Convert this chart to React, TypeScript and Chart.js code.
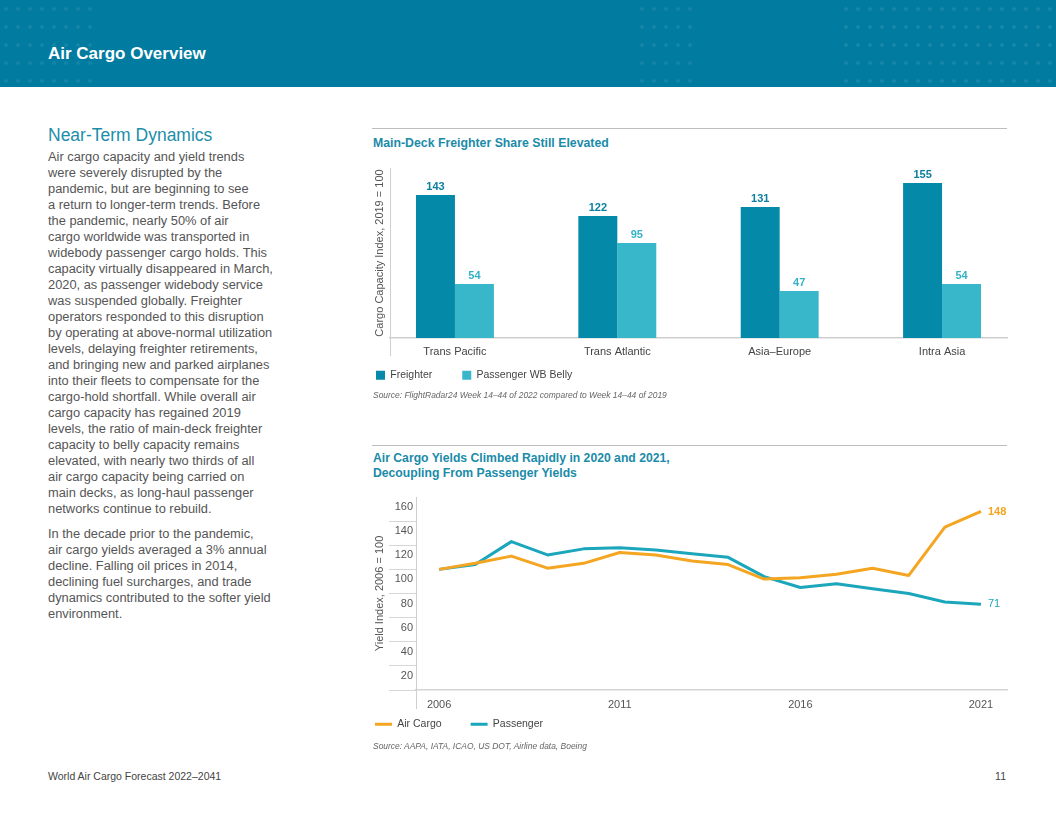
import React, { useEffect, useRef } from "react";
import { Chart, registerables } from "chart.js";

Chart.register(...registerables);

const FONT = '"Liberation Sans", Arial, Helvetica, sans-serif';

// ---- Bar chart data ----
const barCategories = ["Trans Pacific", "Trans Atlantic", "Asia–Europe", "Intra Asia"];
const freighterValues = [143, 122, 131, 155];
const bellyValues = [54, 95, 47, 54];
const barSeriesNames = ["Freighter", "Passenger WB Belly"];

// ---- Line chart data ----
const years = [2006, 2007, 2008, 2009, 2010, 2011, 2012, 2013, 2014, 2015, 2016, 2017, 2018, 2019, 2020, 2021];
const airCargoValues = [100, 105, 111, 101, 105, 114, 112, 107, 104, 92, 93, 96, 101, 95, 135, 148];
const passengerValues = [100, 104, 123, 112, 117, 118, 116, 113, 110, 94, 85, 88, 84, 80, 73, 71];
const yearTicks = [2006, 2011, 2016, 2021];
const lineSeriesNames = ["Air Cargo", "Passenger"];

const FREIGHTER = "#0489A9";
const BELLY = "#38B7CA";
const ORANGE = "#F4A521";
const TEAL = "#1BA6BC";

const bodyLines1 = [
  "Air cargo capacity and yield trends",
  "were severely disrupted by the",
  "pandemic, but are beginning to see",
  "a return to longer-term trends. Before",
  "the pandemic, nearly 50% of air",
  "cargo worldwide was transported in",
  "widebody passenger cargo holds. This",
  "capacity virtually disappeared in March,",
  "2020, as passenger widebody service",
  "was suspended globally. Freighter",
  "operators responded to this disruption",
  "by operating at above-normal utilization",
  "levels, delaying freighter retirements,",
  "and bringing new and parked airplanes",
  "into their fleets to compensate for the",
  "cargo-hold shortfall. While overall air",
  "cargo capacity has regained 2019",
  "levels, the ratio of main-deck freighter",
  "capacity to belly capacity remains",
  "elevated, with nearly two thirds of all",
  "air cargo capacity being carried on",
  "main decks, as long-haul passenger",
  "networks continue to rebuild.",
];
const bodyLines2 = [
  "In the decade prior to the pandemic,",
  "air cargo yields averaged a 3% annual",
  "decline. Falling oil prices in 2014,",
  "declining fuel surcharges, and trade",
  "dynamics contributed to the softer yield",
  "environment.",
];

const axisExtension = {
  id: "axisExtension",
  afterDraw(chart: any, _args: any, opts: any) {
    const { ctx, chartArea } = chart;
    ctx.save();
    ctx.strokeStyle = opts.color || "#ccc";
    ctx.lineWidth = 1;
    ctx.beginPath();
    ctx.moveTo(Math.round(chartArea.left) + 0.5, chartArea.bottom);
    ctx.lineTo(Math.round(chartArea.left) + 0.5, chartArea.bottom + (opts.length || 18));
    ctx.stroke();
    ctx.restore();
  },
};

// places the legend row at a fixed gap below the plot area
const legendPlacement = {
  id: "legendPlacement",
  afterLayout(chart: any, _args: any, opts: any) {
    const lg = chart.legend;
    if (!lg) return;
    const h = lg.bottom - lg.top;
    lg.top = chart.chartArea.bottom + (opts.gap || 0);
    lg.bottom = lg.top + h;
  },
};

const barValueLabels = {
  id: "barValueLabels",
  afterDatasetsDraw(chart: any) {
    const { ctx } = chart;
    chart.data.datasets.forEach((ds: any, i: number) => {
      const meta = chart.getDatasetMeta(i);
      meta.data.forEach((el: any, j: number) => {
        const v = ds.data[j].y;
        ctx.save();
        ctx.font = `bold 11px ${FONT}`;
        ctx.fillStyle = ds.labelColor;
        ctx.textAlign = "center";
        ctx.textBaseline = "bottom";
        ctx.fillText(String(v), el.x, el.y - 2.5);
        ctx.restore();
      });
    });
  },
};

const lineEndLabels = {
  id: "lineEndLabels",
  afterDatasetsDraw(chart: any) {
    const { ctx } = chart;
    chart.data.datasets.forEach((ds: any, i: number) => {
      const meta = chart.getDatasetMeta(i);
      const last = meta.data[meta.data.length - 1];
      const v = ds.data[ds.data.length - 1].y;
      ctx.save();
      ctx.font = `${ds.endLabelWeight} 11px ${FONT}`;
      ctx.fillStyle = ds.borderColor;
      ctx.textAlign = "left";
      ctx.textBaseline = "middle";
      ctx.fillText(String(v), last.x + 7, last.y);
      ctx.restore();
    });
  },
};

function BarChart() {
  const ref = useRef<HTMLCanvasElement | null>(null);
  useEffect(() => {
    if (!ref.current) return;
    const chart = new Chart(ref.current, {
      type: "bar",
      data: {
        datasets: [
          {
            label: barSeriesNames[0],
            data: freighterValues.map((v, i) => ({ x: i, y: v })),
            backgroundColor: FREIGHTER,
            labelColor: "#0A7F9E",
            borderWidth: 0,
          } as any,
          {
            label: barSeriesNames[1],
            data: bellyValues.map((v, i) => ({ x: i, y: v })),
            backgroundColor: BELLY,
            labelColor: "#33B2C7",
            borderWidth: 0,
          } as any,
        ],
      },
      options: {
        responsive: false,
        animation: false,
        events: [],
        layout: { padding: { top: 8, right: 9, left: 0, bottom: 0 } },
        datasets: { bar: { categoryPercentage: 0.48, barPercentage: 1 } },
        scales: {
          x: {
            type: "linear",
            offset: false,
            min: -0.4,
            max: 3.4,
            afterBuildTicks: (axis: any) => {
              axis.ticks = barCategories.map((_, i) => ({ value: i }));
            },
            afterFit: (axis: any) => {
              axis.height = 21.5;
            },
            ticks: {
              callback: (v: any) => barCategories[v] ?? "",
              font: { size: 11, family: FONT },
              color: "#444",
              padding: 7,
              maxRotation: 0,
              autoSkip: false,
            },
            grid: { display: false, drawTicks: false, tickLength: 0, offset: false },
            border: { display: true, color: "#cfcfcf", width: 1.5 },
          },
          y: {
            min: 0,
            max: 170,
            afterFit: (axis: any) => {
              axis.width = 44;
            },
            ticks: { display: false },
            grid: { display: false, drawTicks: false },
            border: { display: true, color: "#cfcfcf", width: 1 },
            title: {
              display: true,
              text: "Cargo Capacity Index, 2019 = 100",
              font: { size: 11, family: FONT },
              color: "#555",
              padding: { top: 27, bottom: 0 },
            },
          },
        },
        plugins: {
          legend: {
            position: "bottom",
            align: "start",
            labels: {
              boxWidth: 9,
              boxHeight: 9,
              padding: 30,
              font: { size: 10.5, family: FONT },
              color: "#444",
            },
          },
          tooltip: { enabled: false },
          axisExtension: { color: "#cfcfcf", length: 18 },
          legendPlacement: { gap: 2 },
        } as any,
      },
      plugins: [barValueLabels, axisExtension, legendPlacement],
    } as any);
    return () => chart.destroy();
  }, []);
  return (
    <canvas
      ref={ref}
      width={670}
      height={250}
      style={{ position: "absolute", left: 346, top: 160, width: 670, height: 250 }}
    />
  );
}

function LineChart() {
  const ref = useRef<HTMLCanvasElement | null>(null);
  useEffect(() => {
    if (!ref.current) return;
    const chart = new Chart(ref.current, {
      type: "line",
      data: {
        datasets: [
          {
            label: lineSeriesNames[0],
            data: years.map((y, i) => ({ x: y, y: airCargoValues[i] })),
            borderColor: ORANGE,
            backgroundColor: ORANGE,
            borderWidth: 3,
            pointRadius: 0,
            tension: 0,
            borderJoinStyle: "round",
            endLabelWeight: "bold",
          } as any,
          {
            label: lineSeriesNames[1],
            data: years.map((y, i) => ({ x: y, y: passengerValues[i] })),
            borderColor: TEAL,
            backgroundColor: TEAL,
            borderWidth: 3,
            pointRadius: 0,
            tension: 0,
            borderJoinStyle: "round",
            endLabelWeight: "normal",
          } as any,
        ],
      },
      options: {
        responsive: false,
        animation: false,
        events: [],
        layout: { padding: { top: 7, right: 9, left: 0, bottom: 0 } },
        scales: {
          x: {
            type: "linear",
            min: 2005.36,
            max: 2021.72,
            afterBuildTicks: (axis: any) => {
              axis.ticks = yearTicks.map((v) => ({ value: v }));
            },
            afterFit: (axis: any) => {
              axis.height = 21.5;
            },
            ticks: {
              callback: (v: any) => String(v),
              font: { size: 11, family: FONT },
              color: "#555",
              padding: 8,
              maxRotation: 0,
              autoSkip: false,
            },
            grid: { display: false, drawTicks: false, tickLength: 0 },
            border: { display: true, color: "#d3d3d3", width: 1.5 },
          },
          y: {
            min: 0,
            max: 160,
            afterFit: (axis: any) => {
              axis.width = 70;
            },
            ticks: {
              stepSize: 20,
              callback: (v: any) => (v === 0 ? "" : String(v)),
              font: { size: 11, family: FONT },
              color: "#555",
              padding: -24,
              labelOffset: 10,
            },
            grid: {
              drawOnChartArea: false,
              drawTicks: true,
              tickLength: 27,
              color: (c: any) => (c.tick && c.tick.value === 160 ? "rgba(0,0,0,0)" : "#d6d6d6"),
            },
            border: { display: true, color: "#cfcfcf", width: 1 },
            title: {
              display: true,
              text: "Yield Index, 2006 = 100",
              font: { size: 11, family: FONT },
              color: "#555",
              padding: { top: 27, bottom: 0 },
            },
          },
        },
        plugins: {
          legend: {
            position: "bottom",
            align: "start",
            labels: {
              usePointStyle: true,
              pointStyle: "line",
              pointStyleWidth: 17,
              padding: 29,
              font: { size: 10.5, family: FONT },
              color: "#444",
            },
          },
          tooltip: { enabled: false },
          axisExtension: { color: "#cfcfcf", length: 19 },
          legendPlacement: { gap: 0 },
        } as any,
      },
      plugins: [lineEndLabels, axisExtension, legendPlacement],
    } as any);
    return () => chart.destroy();
  }, []);
  return (
    <canvas
      ref={ref}
      width={670}
      height={271}
      style={{ position: "absolute", left: 346, top: 490, width: 670, height: 271 }}
    />
  );
}

const dots = (left: number, top: number, width: number, height: number, alpha: number) => (
  <div
    style={{
      position: "absolute",
      left,
      top,
      width,
      height,
      backgroundImage: `radial-gradient(circle, rgba(255,255,255,${alpha}) 1.5px, rgba(255,255,255,0) 2.2px)`,
      backgroundSize: "12px 18px",
    }}
  />
);

export default function App() {
  const abs = (s: React.CSSProperties): React.CSSProperties => ({ position: "absolute", ...s });
  return (
    <div
      style={{
        position: "absolute",
        left: 0,
        top: 0,
        width: 1056,
        height: 816,
        background: "#fff",
        overflow: "hidden",
        fontFamily: FONT,
      }}
    >
      {/* header band */}
      <div style={abs({ left: 0, top: 0, width: 1056, height: 87, background: "#017B9F" })}>
        {dots(0, 0, 100, 87, 0.08)}
        {dots(636, 0, 60, 87, 0.08)}
        {dots(840, 0, 216, 87, 0.09)}
      </div>
      <div
        style={abs({
          left: 48,
          top: 45,
          fontSize: 17,
          lineHeight: "18px",
          fontWeight: 700,
          color: "#fff",
          whiteSpace: "nowrap",
        })}
      >
        Air Cargo Overview
      </div>

      {/* left column */}
      <div
        style={abs({
          left: 48,
          top: 124,
          fontSize: 17.5,
          lineHeight: "22px",
          color: "#1C8EAA",
          whiteSpace: "nowrap",
        })}
      >
        Near-Term Dynamics
      </div>
      <div
        style={abs({
          left: 48,
          top: 149,
          fontSize: 12.85,
          lineHeight: "16px",
          color: "#555",
          whiteSpace: "nowrap",
        })}
      >
        {bodyLines1.map((l, i) => (
          <div key={i}>{l}</div>
        ))}
        <div style={{ height: 9 }} />
        {bodyLines2.map((l, i) => (
          <div key={"b" + i}>{l}</div>
        ))}
      </div>

      {/* footer */}
      <div style={abs({ left: 48, top: 769, fontSize: 10.5, lineHeight: "14px", color: "#444", whiteSpace: "nowrap" })}>
        World Air Cargo Forecast 2022–2041
      </div>
      <div style={abs({ right: 50, top: 769, fontSize: 10.5, lineHeight: "14px", color: "#444" })}>11</div>

      {/* right column: chart 1 */}
      <div style={abs({ left: 372, top: 128, width: 635, height: 0, borderTop: "1px solid #bdbdbd" })} />
      <div
        style={abs({
          left: 373,
          top: 136,
          fontSize: 12.3,
          lineHeight: "14px",
          fontWeight: 700,
          color: "#1A8BA9",
          whiteSpace: "nowrap",
        })}
      >
        Main-Deck Freighter Share Still Elevated
      </div>
      <BarChart />
      <div
        style={abs({
          left: 373,
          top: 390,
          fontSize: 8.45,
          lineHeight: "10px",
          fontStyle: "italic",
          color: "#666",
          whiteSpace: "nowrap",
        })}
      >
        Source: FlightRadar24 Week 14–44 of 2022 compared to Week 14–44 of 2019
      </div>

      {/* right column: chart 2 */}
      <div style={abs({ left: 372, top: 445, width: 635, height: 0, borderTop: "1px solid #bdbdbd" })} />
      <div
        style={abs({
          left: 373,
          top: 451,
          fontSize: 12.2,
          lineHeight: "15px",
          fontWeight: 700,
          color: "#1A8BA9",
          whiteSpace: "nowrap",
        })}
      >
        Air Cargo Yields Climbed Rapidly in 2020 and 2021,
        <br />
        Decoupling From Passenger Yields
      </div>
      <LineChart />
      <div
        style={abs({
          left: 373,
          top: 741,
          fontSize: 8.45,
          lineHeight: "10px",
          fontStyle: "italic",
          color: "#666",
          whiteSpace: "nowrap",
        })}
      >
        Source: AAPA, IATA, ICAO, US DOT, Airline data, Boeing
      </div>
    </div>
  );
}
